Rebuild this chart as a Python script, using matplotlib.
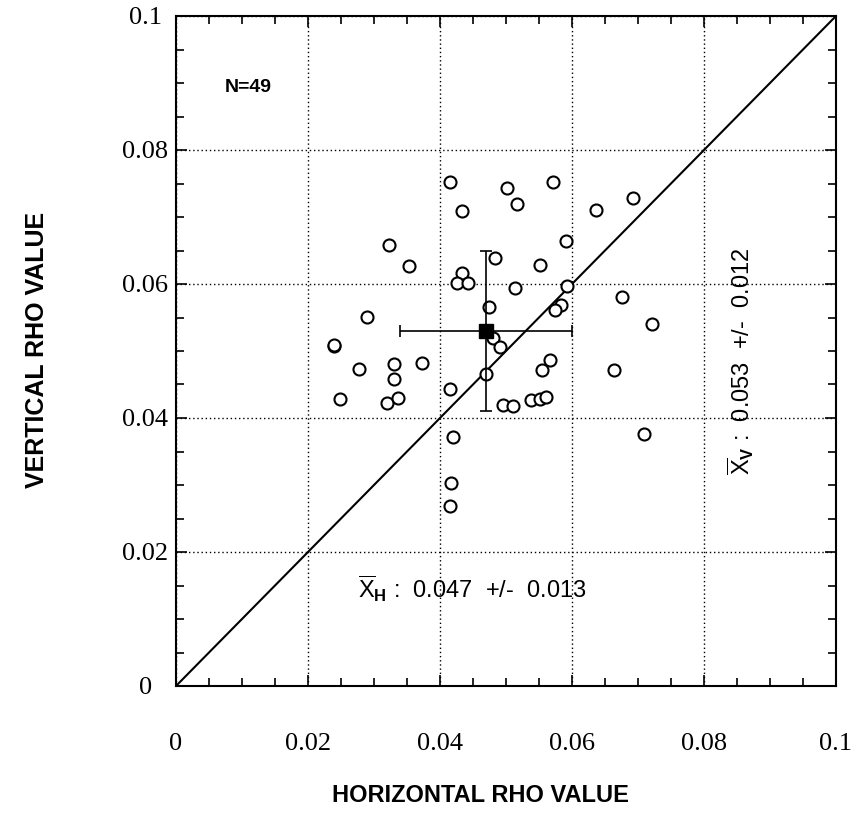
import matplotlib
matplotlib.use("Agg")
import matplotlib.pyplot as plt
from matplotlib.ticker import MultipleLocator

plt.rcParams["mathtext.fontset"] = "custom"
plt.rcParams["mathtext.rm"] = "Liberation Sans"
plt.rcParams["mathtext.it"] = "Liberation Sans"
plt.rcParams["mathtext.bf"] = "Liberation Sans:bold"

# horizontal / vertical rho per sample
rho_h = [0.0415, 0.0501, 0.0571, 0.0434, 0.0517, 0.0637, 0.0692, 0.0591,
         0.0484, 0.0353, 0.0552, 0.0433, 0.0425, 0.0443, 0.0513, 0.0592,
         0.0675, 0.0474, 0.0583, 0.0574, 0.0721, 0.0481, 0.0491, 0.0373,
         0.0567, 0.0554, 0.0664, 0.0470, 0.0415, 0.0538, 0.0552, 0.0561,
         0.0496, 0.0511, 0.0419, 0.0709, 0.0416, 0.0415, 0.0323, 0.0289,
         0.0239, 0.0240, 0.0278, 0.0330, 0.0331, 0.0248, 0.0320, 0.0337]
rho_v = [0.0752, 0.0744, 0.0752, 0.0709, 0.0720, 0.0710, 0.0728, 0.0664,
         0.0639, 0.0627, 0.0629, 0.0617, 0.0602, 0.0602, 0.0594, 0.0597,
         0.0581, 0.0565, 0.0569, 0.0561, 0.0540, 0.0520, 0.0506, 0.0482,
         0.0487, 0.0471, 0.0471, 0.0466, 0.0444, 0.0427, 0.0428, 0.0432,
         0.0420, 0.0418, 0.0371, 0.0376, 0.0303, 0.0269, 0.0658, 0.0551,
         0.0508, 0.0509, 0.0473, 0.0481, 0.0458, 0.0428, 0.0423, 0.0430]

mean_h, sd_h = 0.047, 0.013
mean_v, sd_v = 0.053, 0.012
n_samples = 49

ticks = [0, 0.02, 0.04, 0.06, 0.08, 0.1]
tick_labels = ["0", "0.02", "0.04", "0.06", "0.08", "0.1"]

fig = plt.figure(figsize=(8.65, 8.24), dpi=100)
ax = fig.add_axes([176 / 865, 138 / 824, 660 / 865, 670 / 824])

ax.plot([0, 0.1], [0, 0.1], color="black", lw=1.5, zorder=2)
ax.scatter(rho_h, rho_v, s=75, facecolors="white", edgecolors="black",
           linewidths=1.5, zorder=3)
ax.errorbar([mean_h], [mean_v], xerr=[sd_h], yerr=[sd_v], fmt="s",
            color="black", ms=10, elinewidth=1.2, capsize=4, capthick=1.2,
            zorder=4)

ax.set_xlim(0, 0.1)
ax.set_ylim(0, 0.1)
ax.set_xticks(ticks)
ax.set_yticks(ticks)
ax.set_xticklabels(tick_labels, family="Liberation Serif", fontsize=19)
ax.set_yticklabels(tick_labels, family="Liberation Serif", fontsize=19)
for lab in ax.get_yticklabels():
    lab.set_horizontalalignment("center")
ax.xaxis.set_minor_locator(MultipleLocator(0.005))
ax.yaxis.set_minor_locator(MultipleLocator(0.005))
ax.tick_params(which="both", direction="in", top=True, right=True, width=1.2)
ax.tick_params(which="major", length=8)
ax.tick_params(which="minor", length=6)
ax.tick_params(axis="x", which="major", pad=34)
ax.tick_params(axis="y", which="major", pad=22)
ax.grid(True, which="major", color="black", linestyle=(0, (1, 2)), lw=1.0)
for sp in ax.spines.values():
    sp.set_linewidth(1.5)

ax.text(0.011, 0.0893, "N=%d" % n_samples, fontsize=14, fontweight="bold",
        family="Liberation Sans", ha="center", va="center")
ax.text(0.0275, 0.0145, r"$\overline{\mathrm{X}}_{\mathbf{H}}$ :  0.047  +/-  0.013",
        fontsize=17, family="Liberation Sans", ha="left", va="center")
ax.text(0.0855, 0.0485, r"$\overline{\mathrm{X}}_{\mathbf{V}}$ :  0.053  +/-  0.012",
        fontsize=17, family="Liberation Sans", ha="center", va="center",
        rotation=90)

fig.text(480 / 865, 1 - 796 / 824, "HORIZONTAL RHO VALUE", fontsize=17,
         fontweight="bold", family="Liberation Sans", ha="center", va="center")
fig.text(37 / 865, 1 - 350 / 824, "VERTICAL RHO VALUE", fontsize=18,
         fontweight="bold", family="Liberation Sans", ha="center", va="center",
         rotation=90)

fig.savefig("out.png", dpi=100)
